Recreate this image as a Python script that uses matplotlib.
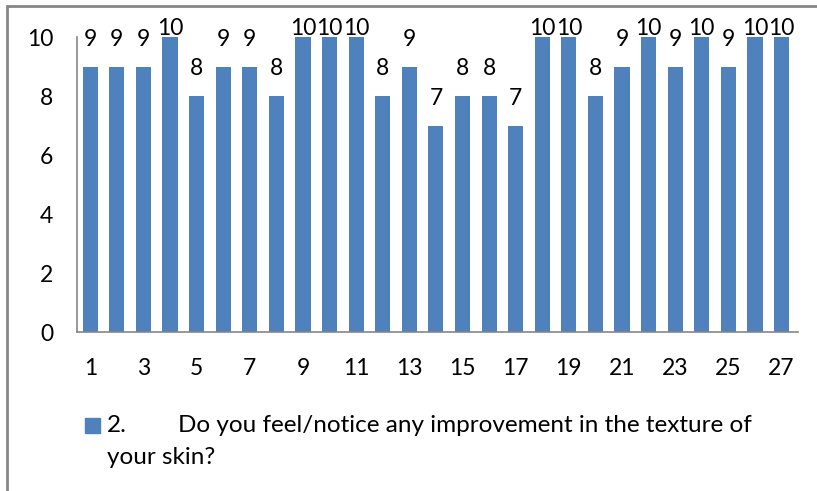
import matplotlib.pyplot as plt
from matplotlib.patches import Rectangle

respondents = list(range(1, 28))
scores = [9, 9, 9, 10, 8, 9, 9, 8, 10, 10, 10, 8, 9, 7, 8, 8, 7, 10, 10, 8,
          9, 10, 9, 10, 9, 10, 10]
xtick_labels = [str(i) for i in range(1, 28, 2)]
legend_num = '2.'
legend_text = 'Do you feel/notice any improvement in the texture of'
legend_text2 = 'your skin?'

plt.rcParams['font.family'] = ['Lato', 'DejaVu Sans']
bar_color = '#4F81BD'
axis_grey = '#868686'

fig = plt.figure(figsize=(8.17, 4.91), dpi=100)
ax = fig.add_axes([0.0942, 0.3238, 0.8826, 0.6008])

ax.bar(respondents, scores, width=0.57, color=bar_color)
for x, v in zip(respondents, scores):
    ax.text(x, min(v + 0.92, 10.3), str(v), ha='center', va='center',
            fontsize=16.5, clip_on=False)

ax.set_xlim(0.5, 27.62)
ax.set_ylim(0, 10)
ax.set_yticks([0, 2, 4, 6, 8, 10])
ax.set_xticks(list(range(1, 28, 2)))
ax.set_xticklabels(xtick_labels)
ax.tick_params(axis='both', length=0, labelsize=16.5)
ax.tick_params(axis='y', pad=17)
ax.tick_params(axis='x', pad=19)
for s in ['top', 'right']:
    ax.spines[s].set_visible(False)
for s in ['left', 'bottom']:
    ax.spines[s].set_color(axis_grey)
    ax.spines[s].set_linewidth(1.2)

# legend drawn by hand (the original has a tab inside the label)
fig.patches.append(Rectangle((85 / 817, 1 - 433 / 491), 15 / 817, 15 / 491,
                             transform=fig.transFigure, color=bar_color))
fig.text(107 / 817, 1 - 426 / 491, legend_num, fontsize=17.5, va='center')
fig.text(178 / 817, 1 - 426 / 491, legend_text, fontsize=17.5, va='center')
fig.text(107 / 817, 1 - 457 / 491, legend_text2, fontsize=17.5, va='center')

# chart-area border (cut off at right and bottom)
fig.patches.append(Rectangle((7 / 817, -0.1), 1.2, 1.1 - 6 / 491,
                             transform=fig.transFigure, fill=False,
                             edgecolor=axis_grey, linewidth=2))

fig.savefig('out.png', dpi=100)
